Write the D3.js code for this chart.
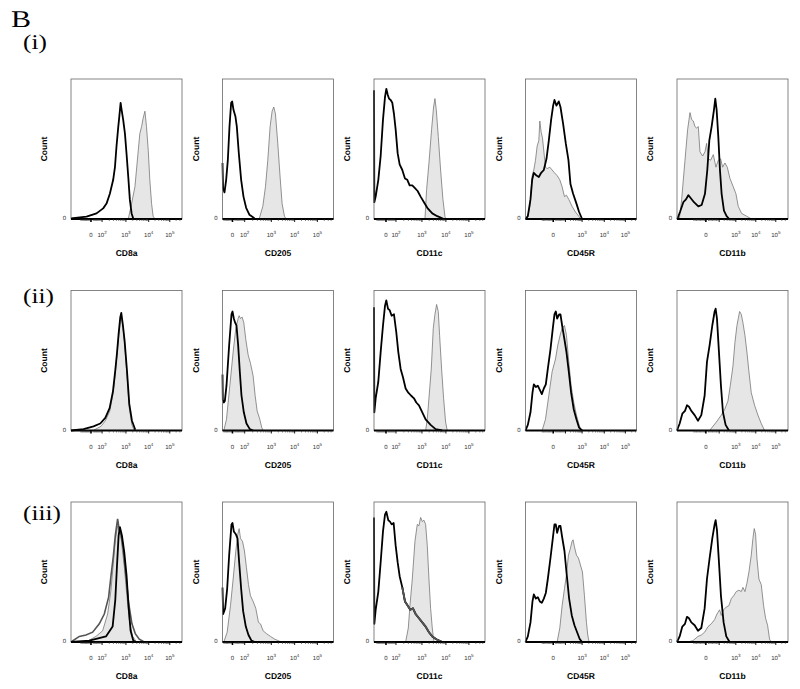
<!DOCTYPE html>
<html>
<head>
<meta charset="utf-8">
<script src="https://cdn.jsdelivr.net/npm/d3@7"></script>
<style>
  body { margin: 0; background: #fff; -webkit-font-smoothing: antialiased; }
  text { font-family: "Liberation Sans", Arial, sans-serif; text-rendering: geometricPrecision; }
</style>
</head>
<body>
<svg width="800" height="689"></svg>
<script>
// markers (columns) and groups (rows)
const markers = ["CD8a", "CD205", "CD11c", "CD45R", "CD11b"];
const rowLabels = ["(i)", "(ii)", "(iii)"];
// axis decades: 0, 10^2, 10^3, 10^4, 10^5
const decadeLabels = ["0", "2", "3", "4", "5"];
// decade positions on each marker's display scale (% of axis)
const decadePos = [
  [18, 28, 49.5, 70, 89],
  [9, 20, 44, 65, 85.5],
  [10.8, 19.8, 43.2, 64.8, 85.5],
  [25, 36, 51, 71, 90],
  [26, 38, 53, 71, 89]
];
const hiddenDecade = [[], [], [], [1], [1]];

const pts = (xs, ys) => xs.map((x, i) => [x, ys[i]]);

// histograms: channel (% of axis) vs count (% of max)
// row (i)
const r1c1Black = pts([0,14,23,29,32,35,38,39.6,41,42.6,43.5,44.7,45.6,47,48.6,50,51.6,53,54.6,56],
                      [0.5,1.7,4,7.6,11,18,28,37,52,66,73,83,78,71,61,47,30,14,4,0.5]);
const r1c1Gray = pts([51.6,54.6,57.6,60.6,62,63.6,65,66.6,68,69.6,71,72.6,74,75.6],
                     [0,11,23,49,61,66,72,77,66,49,28,11,2,0]);
const r1c2Black = pts([0,0.5,1.8,3.3,4.8,6.3,7.8,8.7,9.9,11.7,12.9,14.7,16.8,18.9,21.3,24.3,28.8],
                      [40,22,19,28,42,66,83,84,78,73,66,47,28,16,8,3,0.5]);
const r1c2Gray = pts([33,36.3,38.7,40.8,42.9,44.7,46.2,47.7,49.8,51.9,53.7,55.8,57.3],
                     [0,9,23,42,66,77,80,75,54,30,11,2,0]);
const r1c3Black = pts([0,0.3,1.5,3.9,6,8.1,9.9,11.1,12.3,13.5,15,16.5,18,19.5,21.3,23.1,25.5,27.9,30,32.1,34.5,36.9,39.3,42,45,48,52.5,57,63],
                      [92,12,16,28,45,71,87,93,89,86,85,83,75,64,47,39,35,29,28,24,24,22,20,16,12,8,4,2,0]);
const r1c3Gray = pts([45.9,47.4,49.5,51.9,53.7,54.9,56.1,57.9,60,62.1,63.9,64.5],
                     [0,21,40,64,80,86,78,59,35,14,2,0]);
const r1c4Black = pts([0,2.1,4.5,6,7.5,9.9,12,14.1,16.5,18.9,21,23.1,24.9,26.1,27.9,30,31.5,33.9,36.3,38.7,40.5,42.9,45.9,48.3,51],
                      [0,2,14,28,33,31,30,33,35,43,56,71,81,85,81,84,80,68,54,42,25,18,11,5,0]);
const r1c4Gray = pts([1.5,3.9,6,7.5,9,10.5,12,12.9,14.1,15.3,18,19.5,21.9,24,26.1,28.5,30.9,33,35.1,36.9,39,42,45,48,49.5],
                     [0,9,31,35,42,52,56,70,62,58,37,36,37,35,33,31,28,23,16,17,14,9,5,2,0]);
const r1c5Black = pts([0,0.3,2.7,5.7,8.1,10.2,12.3,15.3,19.2,22.2,25.2,27.3,29.1,31.2,33.3,34.5,35.7,37.2,38.7,40.2,42.3,44.7,47.1],
                      [0,0,5,12,14,17,15,12,9,10,18,35,56,66,78,86,78,59,35,18,6,2,0]);
const r1c5Gray = pts([2.1,4.2,7.2,9.6,11.7,13.2,14.7,16.2,17.7,19.2,20.7,23.1,25.2,26.7,28.2,30.3,32.7,35.1,37.2,39.3,41.1,43.2,45.3,47.7,50.7,53.1,55.2,58.2,62.7,67.2],
                     [0,14,42,64,76,71,70,66,65,66,48,45,48,54,43,42,46,37,42,43,37,40,37,29,23,18,9,4,2,0]);
// row (ii)
const r2c1Black = pts([0,11.3,20.3,26.4,30.9,34.8,37.8,39.9,41.4,42.9,44.4,45.3,46.8,48.3,50.4,52.5,54.9,57.9],
                      [0,1,3,5,9,16,28,43,55,69,81,84,75,64,43,19,7,0.5]);
const r2c1Gray = pts([20,27,31,35,38,40,41.5,43,44.4,45.3,46.8,48.3,50.4,52.5,54.9,57],
                     [0,3,7,14,27,42,55,68,78,82,74,62,40,16,4,0]);
const r2c2Black = pts([0,0.3,1.2,2.1,3.6,6,8.1,9,10.2,11.4,12.6,14.1,15.6,17.1,19.2,21.6,24.6,27.6],
                      [40,22,20,21,32,61,83,85,80,77,75,61,42,25,13,5,1,0]);
const r2c2Gray = pts([1.2,3.6,6.6,9.6,12,14.1,15,16.2,17.7,19.2,21,23.1,25.2,27.6,29.4,31.2,33.6,35.4,36.6],
                     [0,8,32,56,73,80,82,80,81,77,65,54,48,39,25,14,8,2,0]);
const r2c3Black = pts([0,0.3,1.5,3.9,6,8.1,9.9,11.1,12.6,14.1,15.9,18,20.1,21.9,24,26.1,28.5,30.9,33.3,36,38.1,40.5,43.5,46.5,51,55.5,61.5],
                      [88,13,23,35,56,75,89,93,87,86,82,83,70,56,44,38,30,27,25,23,20,18,13,8,4,1,0]);
const r2c3Gray = pts([46.5,48,49.5,51.6,53.4,54.9,56.4,57.9,59.1,60.9,62.7,64.5,66],
                     [0,8,23,44,73,83,90,85,68,44,23,6,0]);
const r2c4Black = pts([0,2.1,4.5,6.3,7.5,9.3,11.1,12.9,14.7,16.5,18.3,20.1,22.5,24.6,26.1,27.3,28.5,30.3,31.5,33,35.1,36.9,39,41.1,43.5,45.9,48.3,51],
                      [0,4,13,27,33,31,32,29,26,30,33,44,58,73,83,85,80,83,83,75,65,56,42,27,15,8,2,0]);
const r2c4Gray = pts([15,18,21,24,27,29.1,31.5,33,35.1,36.9,39,41.1,43.5,45.9,48.3,50.1],
                     [0,8,25,42,51,61,69,73,75,68,49,32,20,11,4,0]);
const r2c5Black = pts([0,2.4,4.8,7.2,9,10.8,12.9,15.9,18.9,21.9,24.9,27,29.4,31.8,33.9,34.8,36,37.8,39.6,41.4,43.8,46.8],
                      [0,5,12,14,18,17,14,11,7,11,25,49,61,75,85,87,80,56,32,13,4,0]);
const r2c5Gray = pts([29.4,35.4,39.9,42.9,45.9,48,50.4,52.2,54,55.2,56.4,57.9,59.4,61.2,63,64.8,66.9,69.9,72.9,75.9,78.9],
                     [0,6,11,15,21,32,46,63,75,80,85,83,77,68,56,42,27,18,11,5,0]);
// row (iii)
const r3c1Black = pts([0,16.5,31.5,37.5,39.9,41.4,42.9,44.1,45.9,48,50.1,51.9,53.7,56.1,58.5],
                      [0,1,4,11,30,54,76,82,76,64,47,25,8,1,0]);
const r3c1Dark = pts([0,7.5,13.5,19.5,25.5,30,33.9,36,38.1,39.9,42,43.5,45.3,47.1,49.5,51.9,54.9,57.9,61.5,66],
                     [0,4,5,7,13,20,32,47,61,76,88,80,76,66,47,28,13,6,2,0]);
const r3c1Gray = pts([13.5,22.5,28.5,33,36,38.1,39.9,42,43.5,45.3,48,50.1,52.5,55.5,59.1],
                     [0,4,8,20,37,56,73,83,80,73,54,35,16,4,0]);
const r3c2Black = pts([0,0.6,2.4,4.2,6,8.1,9,10.2,12,13.5,15,16.8,18.6,21,23.4,26.1,29.1],
                      [39,20,24,38,62,84,85,79,77,74,57,38,22,11,5,1,0]);
const r3c2Gray = pts([1.2,4.2,7.2,9.6,12,13.8,15,16.2,18,19.8,21.6,23.4,25.2,27.6,30,32.4,34.2,36.6,39.6,43.2,47.1,51.6,54.6],
                     [0,7,26,45,65,77,81,74,72,65,53,41,33,29,24,14,13,8,6,4,2,0.5,0]);
const r3c3Black = pts([0,0.3,1.5,3.9,6,8.1,9.9,11.1,12.9,14.4,15.9,17.7,19.5,21.3,23.1,25.5,27.9,30.3,32.7,35.1,37.5,40.5,43.5,46.5,49.5,52.5,56.1,61.5],
                      [89,13,23,36,57,79,91,93,87,86,84,85,69,57,47,39,29,26,23,24,20,17,14,11,7,4,2,0]);
const r3c3Dark = pts([25.5,27.9,30.3,32.7,35.1,37.5,40.5,43.5,46.5,49.5,52.5,56.1,61.5],
                     [39,29,26,23,24,20,17,14,11,7,4,2,0]);
const r3c3Gray = pts([28.5,30.9,32.4,34.5,36.9,39,40.5,42,43.5,45,46.5,48,49.5,51,52.5,54],
                     [0,10,26,45,72,84,83,89,86,87,84,69,45,24,10,0]);
const r3c4Black = pts([0,2.1,4.5,6.3,7.5,9.3,11.1,12.9,14.7,16.5,18.3,20.1,22.5,24.6,26.1,27.3,28.5,30.3,31.5,33,35.1,36.9,39.3,41.7,44.1,46.5,48.9,51],
                      [0,4,14,29,34,31,32,29,28,31,35,45,60,74,84,84,78,83,83,75,65,50,31,19,12,7,2,0]);
const r3c4Gray = pts([28.5,30.9,33,35.1,36.9,38.7,40.5,42,42.9,44.1,45.9,47.7,49.5,51.3,53.1,54.9,56.1,57.3],
                     [0,10,26,38,48,62,67,72,73,68,62,60,55,50,33,14,5,0]);
const r3c5Black = pts([0,2.4,4.8,7.2,9,10.8,12.9,15.9,18.9,21.9,24.9,27,29.4,31.8,33.9,34.8,36,37.8,39.6,42,44.4,47.4],
                      [0,4,11,13,18,17,14,12,8,10,24,45,60,74,84,87,80,57,33,14,4,0]);
const r3c5Gray = pts([9.9,14.4,18.9,21.9,24.9,27.9,30.9,33.9,36,38.4,39.9,42,44.4,46.8,48.9,51,53.4,55.8,57.9,59.4,61.2,63,64.8,66.9,68.4,69.6,70.8,72,73.8,75.9,78,79.8,81.6,83.4,84.9],
                     [0,1,4,5,7,11,13,16,20,23,19,23,25,26,31,33,36,37,36,39,36,42,50,62,74,81,77,60,45,41,26,17,12,2,0]);

const panels = [
  [{gray: r1c1Gray, black: r1c1Black}, {gray: r1c2Gray, black: r1c2Black}, {gray: r1c3Gray, black: r1c3Black},
   {gray: r1c4Gray, black: r1c4Black}, {gray: r1c5Gray, black: r1c5Black}],
  [{gray: r2c1Gray, black: r2c1Black}, {gray: r2c2Gray, black: r2c2Black}, {gray: r2c3Gray, black: r2c3Black},
   {gray: r2c4Gray, black: r2c4Black}, {gray: r2c5Gray, black: r2c5Black}],
  [{gray: r3c1Gray, black: r3c1Black, dark: r3c1Dark}, {gray: r3c2Gray, black: r3c2Black},
   {gray: r3c3Gray, black: r3c3Black, dark: r3c3Dark}, {gray: r3c4Gray, black: r3c4Black},
   {gray: r3c5Gray, black: r3c5Black}]
];

// layout
let svg = d3.select("svg");
let left0 = 71, colStep = 151.5, top0 = 79, rowStep = 211.5;
let w = 111, h = 140;
let rowLabelY = [49, 303, 520];

let x = d3.scaleLinear().domain([0, 100]).range([0, w]);
let y = d3.scaleLinear().domain([0, 100]).range([h, 0]);

let line = d3.line().x(d => x(d[0])).y(d => y(d[1]));
let area = d3.area().x(d => x(d[0])).y0(y(0)).y1(d => y(d[1]));

// figure letter and row labels (serif, a bit wide like the source)
svg.append("text")
  .attr("transform", "translate(11,27) scale(1.25,1)")
  .style("font-family", "'Liberation Serif', 'Times New Roman', serif")
  .style("font-size", "24px")
  .text("B");

rowLabels.forEach((lab, r) => {
  svg.append("text")
    .attr("transform", "translate(23," + rowLabelY[r] + ") scale(1.2,1)")
    .style("font-family", "'Liberation Serif', 'Times New Roman', serif")
    .style("font-size", "21px")
    .text(lab);
});

const tickPositions = (pos) => {
  let minor = [];
  let step = (pos[1] - pos[0]) / 10;
  for (let m = 1; m < 10; m++) {
    if (pos[0] - step * m >= 1) minor.push(pos[0] - step * m);
    if (m > 1) minor.push(pos[0] + step * m);
  }
  for (let k = 1; k < pos.length - 1; k++) {
    for (let m = 2; m < 10; m++) {
      minor.push(pos[k] + (pos[k + 1] - pos[k]) * Math.log10(m));
    }
  }
  let last = pos[pos.length - 1], span = pos[pos.length - 1] - pos[pos.length - 2];
  for (let m = 2; m < 10; m++) {
    let p = last + span * Math.log10(m);
    if (p < 99.5) minor.push(p);
  }
  return minor;
};

panels.forEach((row, r) => {
  row.forEach((p, c) => {
    let g = svg.append("g")
      .attr("transform", "translate(" + (left0 + c * colStep) + "," + (top0 + r * rowStep) + ")");

    g.append("path").datum(p.gray)
      .attr("d", area)
      .attr("fill", "#e6e6e6");
    g.append("path").datum(p.gray)
      .attr("d", line)
      .attr("fill", "none")
      .attr("stroke", "#777")
      .attr("stroke-width", 0.8);

    if (p.dark) {
      g.append("path").datum(p.dark)
        .attr("d", line)
        .attr("fill", "none")
        .attr("stroke", "#555")
        .attr("stroke-width", 1.6);
    }
    g.append("path").datum(p.black)
      .attr("d", line)
      .attr("fill", "none")
      .attr("stroke", "#000")
      .attr("stroke-width", 1.8)
      .attr("stroke-linejoin", "round");
    // third population in CD11c (iii) sits over the black tail
    if (p.dark && c === 2) {
      g.append("path").datum(p.dark)
        .attr("d", line)
        .attr("fill", "none")
        .attr("stroke", "#555")
        .attr("stroke-width", 1.8);
    }

    // frame
    g.append("rect")
      .attr("width", w).attr("height", h)
      .attr("fill", "none")
      .attr("stroke", "#666")
      .attr("stroke-width", 0.8);
    g.append("line")
      .attr("x1", 0).attr("x2", w)
      .attr("y1", h).attr("y2", h)
      .attr("stroke", "#000")
      .attr("stroke-width", 1.8);

    // ticks
    let pos = decadePos[c];
    g.selectAll(".minor")
      .data(tickPositions(pos))
      .join("line")
      .attr("class", "minor")
      .attr("x1", d => x(d)).attr("x2", d => x(d))
      .attr("y1", h).attr("y2", h + 2)
      .attr("stroke", "#333")
      .attr("stroke-width", 0.6);
    g.selectAll(".major")
      .data(pos)
      .join("line")
      .attr("class", "major")
      .attr("x1", d => x(d)).attr("x2", d => x(d))
      .attr("y1", h).attr("y2", h + 3)
      .attr("stroke", "#000")
      .attr("stroke-width", (d, i) => i === 0 ? 1.6 : 0.9);

    pos.forEach((d, i) => {
      if (hiddenDecade[c].includes(i)) return;
      let t = g.append("text")
        .attr("x", x(d))
        .attr("y", h + 18)
        .attr("text-anchor", "middle")
        .style("font-size", "6px")
        .attr("fill", "#333");
      if (i === 0) {
        t.text(decadeLabels[i]);
      } else {
        t.append("tspan").text("10");
        t.append("tspan")
          .attr("dy", -3)
          .style("font-size", "4.5px")
          .text(decadeLabels[i]);
      }
    });

    // y zero label
    g.append("text")
      .attr("x", -5).attr("y", h + 1)
      .attr("text-anchor", "end")
      .style("font-size", "6px")
      .attr("fill", "#333")
      .text("0");

    g.append("text")
      .attr("transform", "translate(-24," + (h / 2) + ") rotate(-90)")
      .attr("text-anchor", "middle")
      .style("font-size", "8.5px")
      .style("font-weight", "bold")
      .text("Count");

    g.append("text")
      .attr("x", w / 2).attr("y", h + 37)
      .attr("text-anchor", "middle")
      .style("font-size", "8.5px")
      .style("font-weight", "bold")
      .text(markers[c]);
  });
});
</script>
</body>
</html>
